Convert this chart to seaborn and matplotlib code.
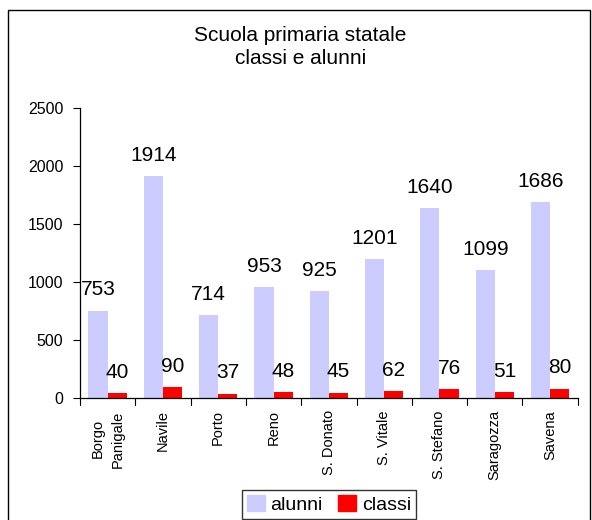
import pandas as pd
import seaborn as sns
import matplotlib.pyplot as plt
from matplotlib.patches import Rectangle

## Data
quartieri = ["Borgo\nPanigale", "Navile", "Porto", "Reno", "S. Donato",
             "S. Vitale", "S. Stefano", "Saragozza", "Savena"]
alunni = [753, 1914, 714, 953, 925, 1201, 1640, 1099, 1686]
classi = [40, 90, 37, 48, 45, 62, 76, 51, 80]

df = pd.DataFrame({
    "quartiere": quartieri * 2,
    "valore": alunni + classi,
    "serie": ["alunni"] * len(quartieri) + ["classi"] * len(quartieri),
})

sns.set_style("white")
plt.rcParams["font.family"] = ["Liberation Sans", "DejaVu Sans"]
plt.rcParams["text.color"] = "black"
plt.rcParams["xtick.color"] = "black"
plt.rcParams["ytick.color"] = "black"

fig = plt.figure(figsize=(5.92, 5.2), dpi=100)
ax = fig.add_axes([0.135, 0.235, 0.841, 0.557])

sns.barplot(data=df, x="quartiere", y="valore", hue="serie",
            palette={"alunni": "#CCCCFF", "classi": "#FF0000"},
            width=0.69, gap=0, saturation=1, linewidth=0, ax=ax, legend=False)

for cont in ax.containers:
    ax.bar_label(cont, padding=8, fontsize=15, color="black")

ax.set_ylim(0, 2500)
ax.set_yticks(range(0, 2501, 500))
ax.set_xlim(-0.5, len(quartieri) - 0.5)
ax.set_xlabel("")
ax.set_ylabel("")
ax.tick_params(axis="y", labelsize=11.5, length=5, pad=7, direction="out", left=True, width=0.8)
ax.tick_params(axis="x", labelsize=10.5, length=0, pad=9)
ax.set_xticks(range(len(quartieri)))
ax.set_xticklabels(quartieri, rotation=90, va="top", ha="center", linespacing=1.6)
# tick marks between categories
for x in [i - 0.5 for i in range(len(quartieri) + 1)]:
    ax.plot([x, x], [0, -0.024], transform=ax.get_xaxis_transform(),
            color="black", lw=0.8, clip_on=False)
sns.despine(ax=ax)
for s in ["left", "bottom"]:
    ax.spines[s].set_color("black")
    ax.spines[s].set_linewidth(0.9)

fig.text(0.507, 0.91, "Scuola primaria statale\nclassi e alunni",
         ha="center", va="center", fontsize=15, linespacing=1.3)

handles = [Rectangle((0, 0), 1, 1, color="#CCCCFF"), Rectangle((0, 0), 1, 1, color="#FF0000")]
leg = fig.legend(handles, ["alunni", "classi"], loc="lower center",
                 bbox_to_anchor=(0.556, -0.016), ncol=2, fontsize=14,
                 frameon=True, fancybox=False, edgecolor="black",
                 handlelength=0.9, handleheight=0.9, handletextpad=0.3,
                 columnspacing=0.8, borderpad=0.25)
leg.get_frame().set_linewidth(1.0)

fig.patches.append(Rectangle((0.0135, -0.01), 0.983, 0.99, transform=fig.transFigure,
                             fill=False, edgecolor="black", lw=1.0))

fig.savefig("out.png", dpi=100)
